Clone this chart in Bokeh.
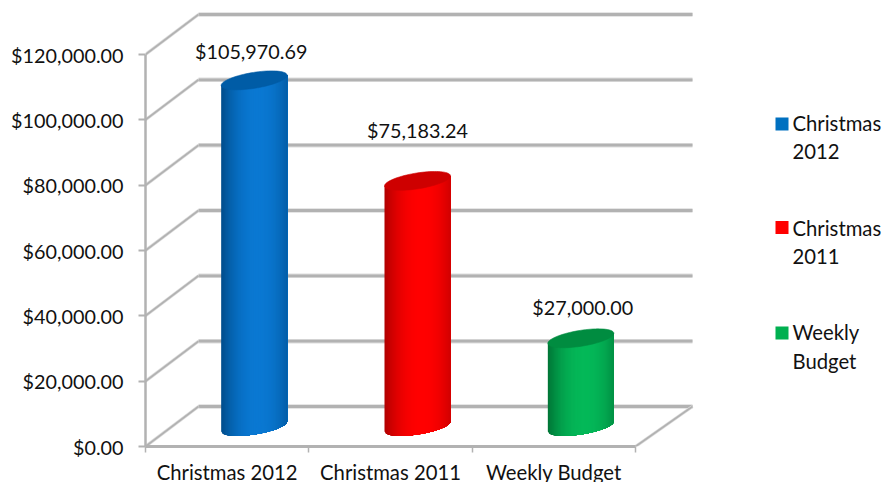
import numpy as np
from bokeh.plotting import figure
from bokeh.models import Range1d, FixedTicker, NumeralTickFormatter
from bokeh.core.properties import value
from bokeh.embed import file_html
from bokeh.resources import INLINE

categories = ["Christmas 2012", "Christmas 2011", "Weekly Budget"]
series_values = [105970.69, 75183.24, 27000.00]
value_labels = ["$105,970.69", "$75,183.24", "$27,000.00"]
legend_labels = ["Christmas\n2012", "Christmas\n2011", "Weekly\nBudget"]
y_ticks = [0, 20000, 40000, 60000, 80000, 100000, 120000]

swatch = ["#0070C0", "#FF0000", "#00B050"]
light = ["#0A78D2", "#FF0000", "#04B858"]
dark = ["#004C8A", "#B00000", "#007436"]
cap = ["#005CA6", "#CE0000", "#008C40"]

FONT = "Lato"
W, H = 885, 482
F_LEFT, F_BOTTOM = 145, 36
PX_X = 1 / 163.33   # x units per pixel
PX_Y = 120000 / 392  # y units per pixel
DEPTH_XL, DEPTH_XR, DEPTH_Y = 53 * PX_X, 57 * PX_X, 40 * PX_Y
MID_X, MID_Y = 27 * PX_X, 20 * PX_Y
RX, RY, TILT = 33 * PX_X, 8 * PX_Y, 5 * PX_Y
GRID = "#B2B2B2"
GRID_SOFT = "#DEDEDE"

p = figure(width=W, height=H, output_backend="svg", toolbar_location=None,
           x_range=Range1d(0, (W - F_LEFT) * PX_X),
           y_range=Range1d(0, (H - F_BOTTOM) * PX_Y),
           frame_width=W - F_LEFT, frame_height=H - F_BOTTOM,
           min_border_left=F_LEFT, min_border_bottom=F_BOTTOM,
           min_border_top=0, min_border_right=0)
p.outline_line_color = None
p.background_fill_color = "white"
p.grid.visible = False

# axes
ya = p.yaxis[0]
ya.ticker = FixedTicker(ticks=y_ticks)
ya.formatter = NumeralTickFormatter(format="$0,0.00")
ya.bounds = (0, 120000)
ya.axis_line_color = GRID
ya.axis_line_width = 2.5
ya.major_tick_line_color = GRID
ya.major_tick_line_width = 2
ya.major_tick_out = 7
ya.major_tick_in = 0
ya.minor_tick_out = 0
ya.minor_tick_in = 0
ya.major_label_standoff = 15
ya.major_label_text_font = FONT
ya.major_label_text_font_size = "19.8px"
ya.major_label_text_color = "#111111"

xa = p.xaxis[0]
centers = [i + 0.5 for i in range(len(categories))]
xa.ticker = FixedTicker(ticks=centers, minor_ticks=list(range(len(categories) + 1)))
xa.major_label_overrides = {c: t for c, t in zip(centers, categories)}
xa.bounds = (0, len(categories))
xa.axis_line_color = GRID
xa.axis_line_width = 3
xa.major_tick_out = 0
xa.major_tick_in = 0
xa.minor_tick_line_color = GRID
xa.minor_tick_line_width = 1.5
xa.minor_tick_out = 6
xa.minor_tick_in = 0
xa.major_label_standoff = 7
xa.major_label_text_font = FONT
xa.major_label_text_font_size = "20.3px"
xa.major_label_text_color = "#111111"

# walls and floor of the 3-D box
n = len(categories)
back_y = [t + DEPTH_Y for t in y_ticks]
for color, lw in ((GRID_SOFT, 4.5), (GRID, 2.8)):
    p.segment(x0=[DEPTH_XL] * len(y_ticks), y0=back_y,
              x1=[n + DEPTH_XR] * len(y_ticks), y1=back_y,
              line_color=color, line_width=lw)
for color, lw in ((GRID_SOFT, 3.2), (GRID, 1.8)):
    p.segment(x0=[0] * len(y_ticks), y0=y_ticks,
              x1=[DEPTH_XL] * len(y_ticks), y1=back_y,
              line_color=color, line_width=lw)
    p.segment(x0=[n], y0=[0], x1=[n + DEPTH_XR], y1=[DEPTH_Y], line_color=color, line_width=lw)


def hex2rgb(h):
    return np.array([int(h[i:i + 2], 16) for i in (1, 3, 5)], dtype=float)


def rgb2hex(c):
    return "#%02X%02X%02X" % tuple(int(round(v)) for v in c)


# cylinders: painter-style strips, each reaching the right edge, so no seams show
edges = np.linspace(-1, 1, 61)
for i, v in enumerate(series_values):
    cx = i + 0.5 + MID_X
    top, bot = v + MID_Y, MID_Y
    xs, ys, cols = [], [], []
    for u0, u1 in zip(edges[:-1], edges[1:]):
        uu = np.linspace(u0, 1, 40)
        yt = top + TILT * uu
        yb = bot + TILT * uu - RY * np.sqrt(np.clip(1 - uu ** 2, 0, 1))
        xs.append(list(cx + RX * uu) + list(cx + RX * uu[::-1]))
        ys.append(list(yt) + list(yb[::-1]))
        um = (u0 + u1) / 2
        t = min(abs(um - 0.12) / 1.12, 1) ** 2.2
        cols.append(rgb2hex(hex2rgb(light[i]) * (1 - t) + hex2rgb(dark[i]) * t))
    p.patches(xs, ys, fill_color=cols, line_color=None)
    t = np.linspace(0, 2 * np.pi, 80)
    p.patch(cx + RX * np.cos(t), top + RY * np.sin(t) + TILT * np.cos(t),
            fill_color=cap[i], line_color=cap[i], line_width=0.6)

# value labels
label_dx = [24 * PX_X, 27 * PX_X, 29 * PX_X]
label_gap = [49, 70.5, 51]
p.text(x=[i + 0.5 + d for i, d in enumerate(label_dx)], y=series_values, text=value_labels,
       y_offset=[-g for g in label_gap], text_align="center", text_baseline="middle",
       text_font=value(FONT), text_font_size="19.8px", text_color="#111111")

# legend, placed by page pixels
FRAME_BOTTOM_PX = H - F_BOTTOM
swatch_x_px, swatch_y_px = 781.5, [123.5, 227, 332.5]
text_x_px, text_y_px = 792, [136.5, 241.5, 346]
p.scatter(x=[(swatch_x_px - F_LEFT) * PX_X] * 3,
          y=[(FRAME_BOTTOM_PX - s) * PX_Y for s in swatch_y_px],
          marker="square", size=13, fill_color=swatch, line_color=None)
p.text(x=[(text_x_px - F_LEFT) * PX_X] * 3,
       y=[(FRAME_BOTTOM_PX - s) * PX_Y for s in text_y_px],
       text=legend_labels, text_align="left", text_baseline="middle",
       text_line_height=1.2, text_font=value(FONT), text_font_size="20.3px", text_color="#111111")

open("out.html", "w").write(file_html(p, INLINE))
